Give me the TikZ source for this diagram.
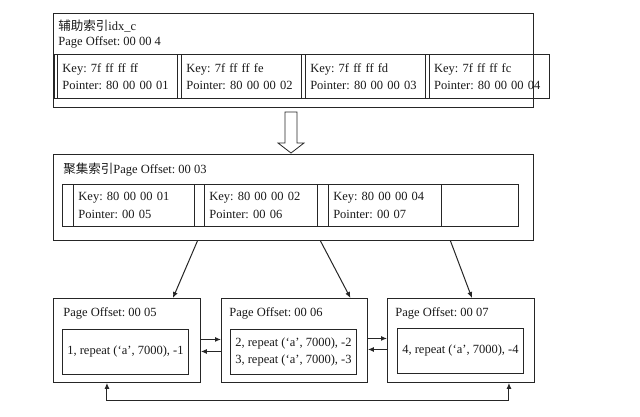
\documentclass[tikz,border=0pt]{standalone}
\usepackage{fontspec}
\setmainfont{Liberation Serif}
\newfontfamily\cjk{Noto Sans CJK SC}
\usetikzlibrary{positioning,arrows.meta}
\frenchspacing

\begin{document}
\begin{tikzpicture}[x=1pt, y=-1pt, line width=0.9pt, draw=black!85, text=black!90,
  font=\fontsize{12.5pt}{17.5pt}\selectfont,
  >={Latex[length=6pt,width=5pt]},
  frame/.style={draw, inner sep=0pt, anchor=north west},
  cell/.style={draw, anchor=north west, align=left, inner xsep=5pt, inner ysep=0pt, minimum height=44pt},
  title/.style={anchor=base west, inner sep=0pt},
  link/.style={->, line width=1pt}]
  \useasboundingbox (0,0) rectangle (640,416);

  % secondary index page
  \node[frame, minimum width=480pt, minimum height=94pt] (sec) at (53,13) {};
  \node[title] (sect) at (58,30) {{\cjk 辅助索引}idx\_c};
  \node[title] (secp) at (58,45) {Page Offset: 00 00 4};
  \node[frame, minimum width=494.7pt, minimum height=44pt] (secrow) at (54,54) {};
  \node[cell, text width=110pt] (s1) at (57,54) {Key: 7f ff ff ff\\Pointer: 80 00 00 01};
  \node[cell, text width=110pt, right=3pt of s1] (s2) {Key: 7f ff ff fe\\Pointer: 80 00 00 02};
  \node[cell, text width=110pt, right=3pt of s2] (s3) {Key: 7f ff ff fd\\Pointer: 80 00 00 03};
  \node[cell, text width=110pt, right=3pt of s3] (s4) {Key: 7f ff ff fc\\Pointer: 80 00 00 04};

  % hollow arrow
  \draw[fill=white, line width=0.8pt] (285,112) -- (297,112) -- (297,143) -- (304,143)
    -- (291,153) -- (278,143) -- (285,143) -- cycle;

  % clustered index page
  \node[frame, minimum width=480pt, minimum height=86pt] (clu) at (53,154) {};
  \node[title] (clut) at (63,173) {{\cjk 聚集索引}Page Offset: 00 03};
  \node[frame, minimum width=456pt, minimum height=42pt] (clurow) at (62,184) {};
  \node[cell, minimum height=42pt, text width=111pt] (c1) at (73,184) {Key: 80 00 00 01\\Pointer: 00 05};
  \node[cell, minimum height=42pt, text width=103pt, right=9pt of c1] (c2) {Key: 80 00 00 02\\Pointer: 00 06};
  \node[cell, minimum height=42pt, text width=103pt, right=10pt of c2] (c3) {Key: 80 00 00 04\\Pointer: 00 07};

  % leaf pages
  \node[frame, minimum width=147pt, minimum height=84pt] (p5) at (53,298) {};
  \node[frame, minimum width=146pt, minimum height=84pt] (p6) at (221,298) {};
  \node[frame, minimum width=147pt, minimum height=84pt] (p7) at (387,298) {};
  \node[title] (p5t) at (63,316.5) {Page Offset: 00 05};
  \node[title] (p6t) at (229,316.5) {Page Offset: 00 06};
  \node[title] (p7t) at (395,316.5) {Page Offset: 00 07};
  \node[frame, align=center, minimum width=126pt, minimum height=45pt] (r5) at (62,329) {1, repeat (‘a’, 7000), -1};
  \node[frame, align=center, minimum width=126pt, minimum height=45pt] (r6) at (230,329) {2, repeat (‘a’, 7000), -2\\3, repeat (‘a’, 7000), -3};
  \node[frame, align=center, minimum width=126pt, minimum height=45pt] (r7) at (397,328) {4, repeat (‘a’, 7000), -4};

  % pointers
  \draw[link] ([xshift=-96pt]clu.south) -- ([xshift=46pt]p5.north);
  \draw[link] ([xshift=27pt]clu.south) -- ([xshift=56pt]p6.north);
  \draw[link] ([xshift=157pt]clu.south) -- ([xshift=11pt]p7.north);

  % sibling links
  \draw[link] ([yshift=1pt]p5.east) -- ([yshift=1pt]p6.west);
  \draw[link] ([yshift=-11pt]p6.west) -- ([yshift=-11pt]p5.east);
  \draw[link] ([yshift=2pt]p6.east) -- ([yshift=2pt]p7.west);
  \draw[link] ([yshift=-9pt]p7.west) -- ([yshift=-9pt]p6.east);
  \draw[<->, line width=1pt] ([xshift=-20pt]p5.south) -- ++(0,18) -| ([xshift=48pt]p7.south);
\end{tikzpicture}
\end{document}
